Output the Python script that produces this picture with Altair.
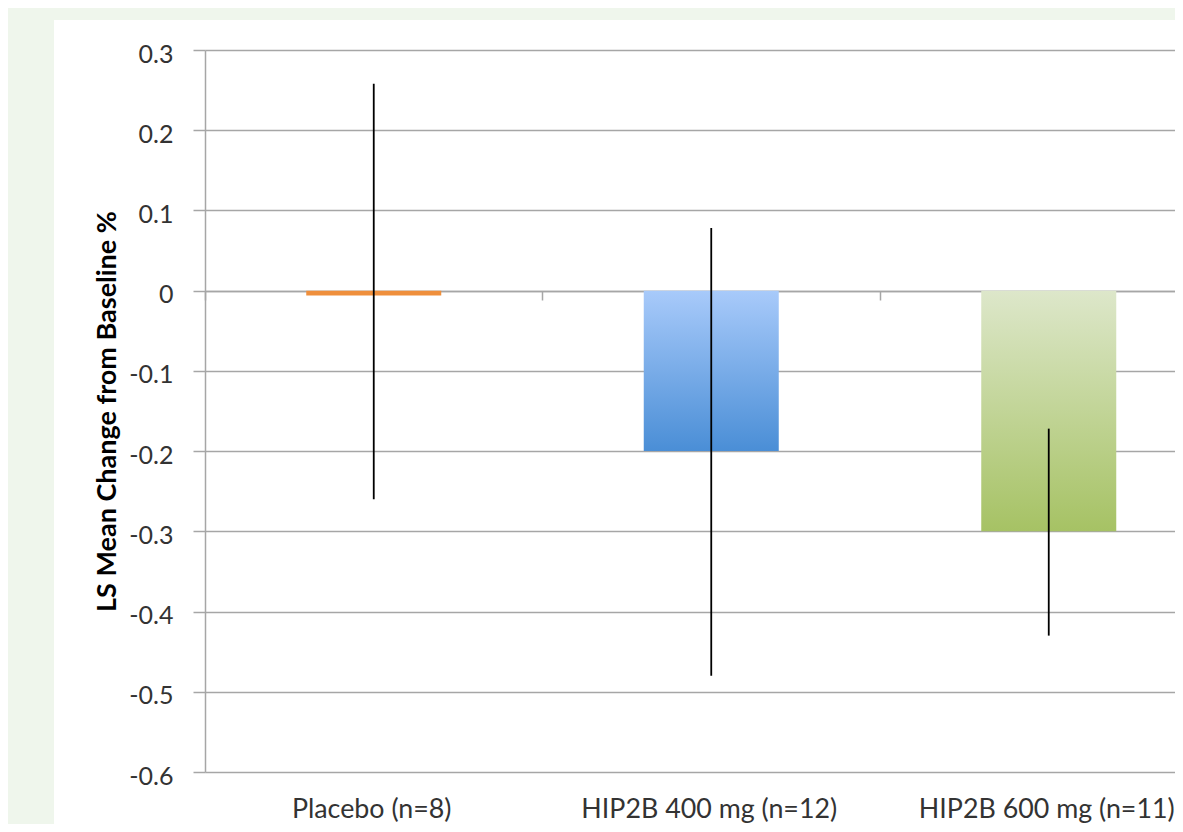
import altair as alt
import pandas as pd

# ---- data ----
groups = ["Placebo (n=8)", "HIP2B 400 mg (n=12)", "HIP2B 600 mg (n=11)"]
means = [-0.006, -0.2, -0.3]
ci_low = [-0.26, -0.48, -0.43]
ci_high = [0.258, 0.078, -0.172]
y_ticks = [0.3, 0.2, 0.1, 0.0, -0.1, -0.2, -0.3, -0.4, -0.5, -0.6]
y_title = "LS Mean Change from Baseline %"

df = pd.DataFrame({"group": groups, "mean": means, "low": ci_low, "high": ci_high})

# ---- styling ----
W = 970          # visible plot width (the reference is cropped at the right edge)
X_SPAN = 1012.5  # full category span of the original chart
H = 722
FONT = "Lato"
GRID = "#a6a6a6"
TXT = "#333333"
PAGE_GREEN = "#eff6ec"
ORANGE = "#ef8f3c"

blue_grad = alt.Gradient(
    gradient="linear", x1=0, x2=0, y1=0, y2=1,
    stops=[alt.GradientStop(color="#a8cafa", offset=0),
           alt.GradientStop(color="#4a8ed6", offset=1)],
)
green_grad = alt.Gradient(
    gradient="linear", x1=0, x2=0, y1=0, y2=1,
    stops=[alt.GradientStop(color="#dde7ca", offset=0),
           alt.GradientStop(color="#a6c264", offset=1)],
)

x_axis = alt.Axis(
    orient="bottom", offset=-481, domain=True, domainColor=GRID, domainWidth=1.5,
    ticks=True, tickColor=GRID, tickWidth=1.5, tickSize=9, bandPosition=-0.75,
    labelPadding=517, labelBaseline="alphabetic", labelAngle=0, labelFontSize=26.8,
    labelOffset=-2, labelFont=FONT, labelLimit=0, labelColor=TXT, title=None, grid=False,
)
x_enc = alt.X("group:N", sort=groups,
              scale=alt.Scale(range=[0, X_SPAN], paddingInner=0.6, paddingOuter=0.3),
              axis=x_axis)

label_expr = ("datum.value == 0 ? '0' : (datum.value < 0 ? '-' + format(-datum.value, '.1f') "
              ": format(datum.value, '.1f'))")
y_axis = alt.Axis(
    values=y_ticks, labelExpr=label_expr, grid=True, gridColor=GRID, gridWidth=1.5,
    domainColor=GRID, domainWidth=1.5, tickColor=GRID, tickWidth=1.5, tickSize=12,
    labelPadding=20, labelFontSize=25, labelFont=FONT, labelColor=TXT, labelOffset=4,
    title=y_title, titleFont=FONT, titleFontSize=27, titleFontWeight="bold",
    titleColor="black", titleX=-98, titleY=H / 2, titleBaseline="middle", titleAlign="center",
)
y_scale = alt.Scale(domain=[-0.6, 0.3], nice=False)


def y_enc(field):
    return alt.Y(f"{field}:Q", scale=y_scale, axis=y_axis)


one = pd.DataFrame({"k": [0]})
left_strip = alt.Chart(one).mark_rect(color=PAGE_GREEN).encode(
    x=alt.value(-197), x2=alt.value(-151), y=alt.value(-42), y2=alt.value(H + 60)
)
top_strip = alt.Chart(one).mark_rect(color=PAGE_GREEN).encode(
    x=alt.value(-197), x2=alt.value(W + 60), y=alt.value(-42), y2=alt.value(-30)
)

base = alt.Chart(df)
bar_placebo = base.transform_filter(alt.datum.group == groups[0]).mark_bar(
    color=ORANGE).encode(x=x_enc, y=y_enc("mean"))
bar_400 = base.transform_filter(alt.datum.group == groups[1]).mark_bar(
    color=blue_grad).encode(x=x_enc, y=y_enc("mean"))
bar_600 = base.transform_filter(alt.datum.group == groups[2]).mark_bar(
    color=green_grad).encode(x=x_enc, y=y_enc("mean"))

err = base.mark_rule(color="black", strokeWidth=1.8).encode(
    x=x_enc, y=y_enc("low"), y2="high:Q"
)

chart = alt.layer(left_strip, top_strip, bar_placebo, bar_400, bar_600, err).properties(
    width=W, height=H, autosize="none",
    padding={"left": 197, "top": 42, "right": 0, "bottom": 52},
    background="white",
).configure_view(stroke=None)

chart.save("out.html", embed_options={"renderer": "svg", "actions": False})
